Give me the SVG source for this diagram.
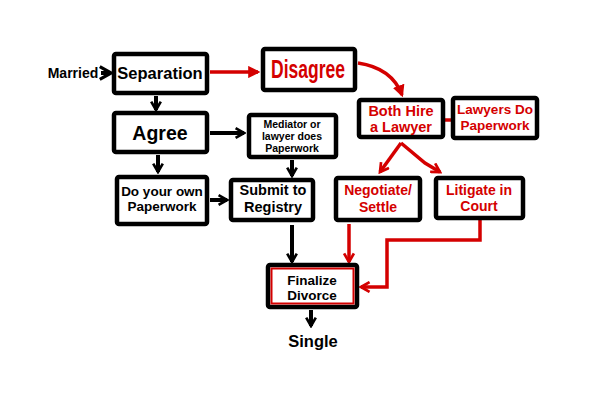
<svg xmlns="http://www.w3.org/2000/svg" width="600" height="400" viewBox="0 0 600 400">
<defs>
<style>
.box{fill:#fff;stroke:#000;stroke-width:4.5;stroke-linejoin:round}
.t{font-family:"Liberation Sans",Arial,sans-serif;font-weight:bold;text-anchor:middle;fill:#000}
.r{fill:#d40000}
.bl{stroke:#000;stroke-width:4;fill:none}
.rl{stroke:#d40000;stroke-width:3.5;fill:none}
</style>
<marker id="ab" viewBox="0 0 10 10" refX="8" refY="5" markerWidth="3" markerHeight="3" orient="auto" markerUnits="strokeWidth"><path d="M1,1 L8,5 L1,9" fill="none" stroke="#000" stroke-width="2.2"/></marker>
<marker id="abs" viewBox="0 0 10 10" refX="8" refY="5" markerWidth="4" markerHeight="4" orient="auto" markerUnits="strokeWidth"><path d="M1,1 L8,5 L1,9" fill="none" stroke="#000" stroke-width="2"/></marker>
<marker id="ar" viewBox="0 0 10 10" refX="8" refY="5" markerWidth="3.5" markerHeight="3.5" orient="auto" markerUnits="strokeWidth"><path d="M1,1 L8,5 L1,9" fill="none" stroke="#d40000" stroke-width="2.2"/></marker>
<marker id="arf" viewBox="0 0 10 10" refX="8" refY="5" markerWidth="3.5" markerHeight="3.5" orient="auto" markerUnits="strokeWidth"><path d="M0,0 L10,5 L0,10 Z" fill="#d40000"/></marker>
</defs>
<rect width="600" height="400" fill="#fff"/>
<g id="connectors">
<path class="bl" d="M101,73 L111,73" stroke-width="1.8" marker-end="url(#abs)"/>
<path class="bl" d="M156,96 L156,110" stroke-width="2.5" marker-end="url(#ab)"/>
<path class="bl" d="M210,133 L244,133" marker-end="url(#ab)"/>
<path class="bl" d="M158,155 L158,172" stroke-width="2.8" marker-end="url(#ab)"/>
<path class="bl" d="M210,200 L227,200" marker-end="url(#ab)"/>
<path class="bl" d="M292,160 L292,176" stroke-width="2.8" marker-end="url(#ab)"/>
<path class="bl" d="M292,225 L292,262" marker-end="url(#ab)"/>
<path class="bl" d="M311,310 L311,326" stroke-width="3" marker-end="url(#ab)"/>
<path class="rl" d="M210,72 L258,72" stroke-width="4" marker-end="url(#arf)"/>
<path class="rl" d="M358,63 Q392,68 402,95" marker-end="url(#arf)"/>
<path class="rl" d="M443,120 L452,120" stroke-width="2.5"/>
<path class="rl" d="M401,143 L380,172" marker-end="url(#ar)"/>
<path class="rl" d="M401,143 L425,163 L440,172" marker-end="url(#ar)"/>
<path class="rl" d="M349,224 L349,262" marker-end="url(#ar)"/>
<path class="rl" d="M480,220 L480,240 L387,240 L387,287 L361,287" marker-end="url(#ar)"/>
</g>
<g id="married"><text class="t" x="73" y="78" font-size="14">Married</text></g>
<g id="separation"><rect class="box" x="114" y="54" width="93" height="39" rx="2"/><text class="t" x="160" y="79" font-size="16.5">Separation</text></g>
<g id="disagree"><rect class="box" x="263" y="49" width="92" height="41" rx="2"/><text class="t r" x="308" y="78" font-size="25" textLength="74" lengthAdjust="spacingAndGlyphs">Disagree</text></g>
<g id="agree"><rect class="box" x="114" y="113" width="93" height="39" rx="2"/><text class="t" x="160" y="140" font-size="19.5">Agree</text></g>
<g id="mediator"><rect class="box" x="249" y="115" width="87" height="42" rx="2"/><text class="t" font-size="10.5"><tspan x="292" y="128">Mediator or</tspan><tspan x="292" y="140">lawyer does</tspan><tspan x="292" y="152">Paperwork</tspan></text></g>
<g id="hire"><rect class="box" x="359" y="100" width="84" height="37" rx="2"/><text class="t r" font-size="14.5"><tspan x="401" y="116">Both Hire</tspan><tspan x="401" y="132">a Lawyer</tspan></text></g>
<g id="lawyers"><rect class="box" x="453" y="98" width="84" height="40" rx="2"/><text class="t r" font-size="13.5"><tspan x="495" y="114">Lawyers Do</tspan><tspan x="495" y="130">Paperwork</tspan></text></g>
<g id="own"><rect class="box" x="117" y="177" width="90" height="47" rx="2"/><text class="t" font-size="13.5"><tspan x="162" y="196">Do your own</tspan><tspan x="162" y="211">Paperwork</tspan></text></g>
<g id="submit"><rect class="box" x="231" y="180" width="82" height="40" rx="2"/><text class="t" font-size="14.5"><tspan x="273" y="195">Submit to</tspan><tspan x="273" y="212">Registry</tspan></text></g>
<g id="negotiate"><rect class="box" x="336" y="178" width="84" height="42" rx="2"/><text class="t r" font-size="14"><tspan x="378" y="195">Negotiate/</tspan><tspan x="378" y="212">Settle</tspan></text></g>
<g id="litigate"><rect class="box" x="436" y="178" width="87" height="40" rx="2"/><text class="t r" font-size="14"><tspan x="479" y="195">Litigate in</tspan><tspan x="479" y="211">Court</tspan></text></g>
<g id="finalize"><rect class="box" x="268" y="265" width="89" height="42" rx="2"/><rect x="271.5" y="268.5" width="82" height="35" fill="none" stroke="#d40000" stroke-width="2"/><text class="t" font-size="13.5"><tspan x="312" y="285">Finalize</tspan><tspan x="312" y="300">Divorce</tspan></text></g>
<g id="single"><text class="t" x="313" y="347" font-size="16.5">Single</text></g>
</svg>
